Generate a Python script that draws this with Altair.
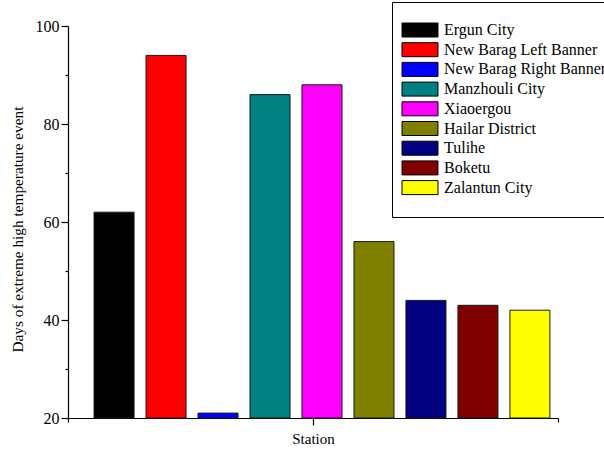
import altair as alt
import pandas as pd

stations = [
    "Ergun City", "New Barag Left Banner", "New Barag Right Banner",
    "Manzhouli City", "Xiaoergou", "Hailar District", "Tulihe",
    "Boketu", "Zalantun City",
]
days = [62, 94, 21, 86, 88, 56, 44, 43, 42]
colors = ["#000000", "#FF0000", "#0000FF", "#008080", "#FF00FF",
          "#808000", "#000080", "#800000", "#FFFF00"]

df = pd.DataFrame({"station": stations, "days": days,
                   "idx": list(range(1, len(stations) + 1))})

x_lo, x_hi = 0.114, 9.54
x_mid = (x_lo + x_hi) / 2
half = 0.385
font = "Liberation Serif"

bars = alt.Chart(df).transform_calculate(
    x0=f"datum.idx - {half}", x1=f"datum.idx + {half}"
).mark_bar(stroke="#1a1a1a", strokeWidth=1, opacity=1).encode(
    x=alt.X("x0:Q", scale=alt.Scale(domain=[x_lo, x_hi], nice=False, zero=False),
            axis=alt.Axis(title="Station", values=[x_lo, x_mid, x_hi],
                          labels=False, grid=False,
                          tickSize={"condition": {"test": f"abs(datum.value - {x_mid}) < 0.01", "value": 7}, "value": 4},
                          titlePadding=6)),
    x2="x1:Q",
    y=alt.Y("days:Q", scale=alt.Scale(domain=[20, 100], nice=False, zero=False),
            axis=alt.Axis(title="Days of extreme high temperature event",
                          values=[20, 30, 40, 50, 60, 70, 80, 90, 100],
                          labelExpr="datum.value % 20 == 0 ? datum.label : ''",
                          tickSize={"condition": {"test": "datum.value % 20 == 0", "value": 7}, "value": 3},
                          grid=False, labelPadding=2, labelFontSize=16,
                          titlePadding=10, titleY=203, titleFontSize=15.3)),
    y2=alt.datum(20),
    fill=alt.Fill("station:N", sort=stations,
                  scale=alt.Scale(domain=stations, range=colors),
                  legend=alt.Legend(title=None, orient="none", legendX=324, legendY=-24,
                                    symbolType="M-2.57,-1H2.57V1H-2.57Z", symbolSize=196,
                                    symbolStrokeColor="#000000", symbolStrokeWidth=1,
                                    symbolOpacity=1,
                                    labelFont=font, labelFontSize=16, labelColor="#000000",
                                    labelLimit=400, labelOffset=16, rowPadding=1.7,
                                    padding=20, strokeColor="#000000", fillColor="white")),
)

chart = bars.properties(
    width=490, height=392,
    autosize=alt.AutoSizeParams(type="none"),
    padding={"left": 68, "top": 26, "right": 46, "bottom": 32},
).configure_view(stroke=None).configure_axis(
    domainColor="#000000", tickColor="#000000", labelColor="#000000",
    titleColor="#000000", labelFont=font, titleFont=font, labelFontSize=15,
    titleFontSize=15, titleFontWeight="normal", domainWidth=1.2, tickWidth=1.2,
)

chart.save("out.html", embed_options={"renderer": "svg", "actions": False})
